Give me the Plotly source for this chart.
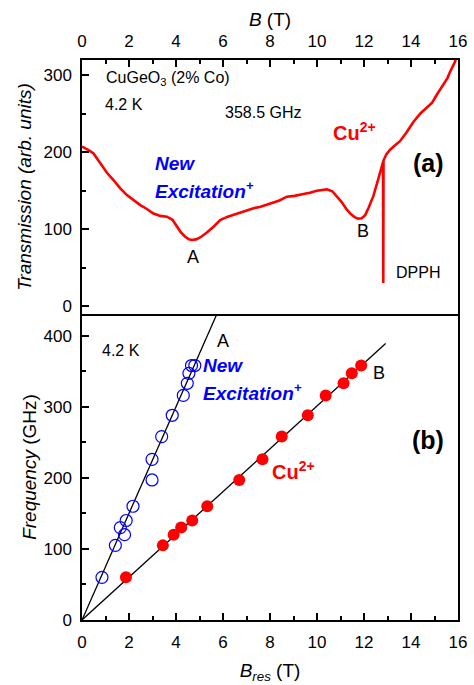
import plotly.graph_objects as go
import numpy as np

# ---------------- data ----------------
# (a) transmission spectrum at 358.5 GHz
trans_B = [0, 0.15, 0.3, 0.49, 0.78, 1.06, 1.34, 1.62, 1.91, 2.2, 2.48, 2.76, 3.04, 3.33, 3.61, 3.85,
           4.04, 4.2, 4.39, 4.55, 4.68, 4.85, 5.03, 5.3, 5.6, 5.75, 5.88, 6.2, 6.59, 7.0, 7.3, 7.6,
           8.01, 8.4, 8.72, 9.05, 9.42, 9.7, 9.99, 10.2, 10.42, 10.65, 10.84, 11.05, 11.27,
           11.45, 11.6, 11.75, 11.9, 12.05, 12.2, 12.4, 12.6, 12.8, 12.81, 12.82, 12.83,
           12.95, 13.11, 13.3, 13.53, 13.8, 14.1, 14.4, 14.67, 14.9, 15.09, 15.37, 15.55,
           15.66, 15.8, 15.87, 15.92]
trans_T = [207, 205, 202, 198, 185, 173, 163.6, 153, 144, 137, 131, 126, 120, 117, 116, 112,
           103, 96, 90, 86.5, 85.7, 86.5, 89, 95, 103, 108, 111.7, 116, 120, 124, 127, 129,
           133, 137, 142, 143, 145.5, 147, 149.7, 151, 151.5, 149, 142, 135, 125,
           119, 115.5, 113.5, 114, 118, 128, 143, 164, 185, 187, 30, 189,
           197, 203, 208, 214, 225, 239, 250, 258, 264, 274, 287, 296,
           304, 312, 317, 322]

# (b) resonance positions
newexc_B = [0.85, 1.42, 1.63, 1.81, 1.88, 2.17, 2.98, 2.98, 3.39, 3.84, 4.31, 4.48, 4.55, 4.66, 4.8]
newexc_f = [60, 105, 130, 120, 140, 160, 197, 226, 258, 288, 316, 333, 347, 358, 358]
cu_B = [1.87, 3.44, 3.90, 4.22, 4.69, 5.33, 6.69, 7.68, 8.50, 9.61, 10.37, 11.13, 11.48, 11.88]
cu_f = [60, 105, 120, 130, 140, 160, 197, 226, 258, 288, 316, 333, 347, 358]

# linear fits through origin (slopes in GHz/T) and their field extent
fit_slopes = {"A": 75.0, "B": 30.1}
fit_Bmax = {"A": 6.5, "B": 12.92}

x_ticks = list(range(0, 17, 2))
y_ticks_a = [0, 100, 200, 300]
y_ticks_b = [0, 100, 200, 300, 400]

# ---------------- layout helpers ----------------
W, H = 474, 685
L, R, T, B = 82, 16, 60, 65
PW, PH = W - L - R, H - T - B
split_px = 314
split = (H - B - split_px) / PH


def px(x):
    return (x - L) / PW


def py(y):
    return (H - B - y) / PH


FONT = "Liberation Sans, Arial, sans-serif"
BLACK = "#000000"
RED = "#ff0000"
BLUE = "#0000ff"

fig = go.Figure()

fig.add_trace(go.Scatter(x=trans_B, y=trans_T, mode="lines",
                         line=dict(color=RED, width=2.6), xaxis="x", yaxis="y",
                         showlegend=False, hoverinfo="skip"))

for key in ["A", "B"]:
    bb = np.array([0, fit_Bmax[key]])
    fig.add_trace(go.Scatter(x=bb, y=fit_slopes[key] * bb, mode="lines",
                             line=dict(color=BLACK, width=1.3), xaxis="x2", yaxis="y2",
                             showlegend=False, hoverinfo="skip"))

fig.add_trace(go.Scatter(x=newexc_B, y=newexc_f, mode="markers",
                         marker=dict(symbol="circle-open", size=12, color=BLUE,
                                     line=dict(width=1.2, color=BLUE)),
                         xaxis="x2", yaxis="y2", showlegend=False))
fig.add_trace(go.Scatter(x=cu_B, y=cu_f, mode="markers",
                         marker=dict(symbol="circle", size=12, color=RED,
                                     line=dict(width=0)),
                         xaxis="x2", yaxis="y2", showlegend=False))

axis_common = dict(showline=True, linecolor=BLACK, linewidth=1.5, mirror=True,
                   ticks="inside", ticklen=7, tickwidth=1.5, tickcolor=BLACK,
                   showgrid=False, zeroline=False, automargin=False,
                   tickfont=dict(family=FONT, size=17, color=BLACK))
minor_x = dict(dtick=1, tick0=0, ticks="inside", ticklen=4, tickwidth=1.5, tickcolor=BLACK)
minor_y = dict(dtick=50, tick0=0, ticks="inside", ticklen=4, tickwidth=1.5, tickcolor=BLACK)

fig.update_layout(
    width=W, height=H,
    margin=dict(l=L, r=R, t=T, b=B),
    paper_bgcolor="white", plot_bgcolor="white",
    showlegend=False,
    xaxis=dict(axis_common, domain=[0, 1], anchor="y", side="top", range=[0, 16],
               tickvals=x_ticks, minor=minor_x, ticklabelstandoff=4,
               title=dict(text="<i>B</i> (T)", font=dict(family=FONT, size=19, color=BLACK), standoff=1)),
    yaxis=dict(axis_common, domain=[split, 1], anchor="x", range=[-10.4, 319.5],
               tickvals=y_ticks_a, minor=minor_y, ticklabelstandoff=5,
               title=dict(text="<i>Transmission (arb. units)</i>",
                          font=dict(family=FONT, size=19, color=BLACK), standoff=7)),
    xaxis2=dict(axis_common, mirror=False, domain=[0, 1], anchor="y2", side="bottom", range=[0, 16],
                tickvals=x_ticks, minor=minor_x, ticklabelstandoff=6,
                title=dict(text="<i>B</i><sub><i>res</i></sub> (T)",
                           font=dict(family=FONT, size=19, color=BLACK), standoff=13)),
    yaxis2=dict(axis_common, domain=[0, split], anchor="x2", range=[0, 430.5],
                tickvals=y_ticks_b, minor=minor_y, ticklabelstandoff=5,
                title=dict(text="<i>Frequency</i> (GHz)",
                           font=dict(family=FONT, size=19, color=BLACK), standoff=2)),
)


def note(text, x, y, size=16, color=BLACK, anchor="left", bold=False, italic=False):
    t = text
    if italic:
        t = "<i>" + t + "</i>"
    if bold:
        t = "<b>" + t + "</b>"
    fig.add_annotation(text=t, x=px(x), y=py(y), xref="paper", yref="paper",
                       xanchor=anchor, yanchor="middle", showarrow=False,
                       font=dict(family=FONT, size=size, color=color))


# panel (a)
note("CuGeO<sub>3</sub> (2% Co)", 104, 78)
note("4.2 K", 103, 104)
note("358.5 GHz", 223, 112)
note("Cu<sup>2+</sup>", 331, 131, size=20, color=RED, bold=True)
note("(a)", 411, 163, size=25, bold=True)
note("New", 153, 163, size=19, color=BLUE, bold=True, italic=True)
note("Excitation<sup>+</sup>", 153, 190, size=19, color=BLUE, bold=True, italic=True)
note("A", 193, 257, size=18, anchor="center")
note("B", 363, 231, size=18, anchor="center")
note("DPPH", 394, 272)

# panel (b)
note("4.2 K", 100, 351)
note("A", 223, 341, size=18, anchor="center")
note("New", 201, 365, size=19, color=BLUE, bold=True, italic=True)
note("Excitation<sup>+</sup>", 201, 392, size=19, color=BLUE, bold=True, italic=True)
note("B", 379, 373, size=18, anchor="center")
note("(b)", 410, 440, size=25, bold=True)
note("Cu<sup>2+</sup>", 270, 470, size=20, color=RED, bold=True)

fig.write_html("out.html")
